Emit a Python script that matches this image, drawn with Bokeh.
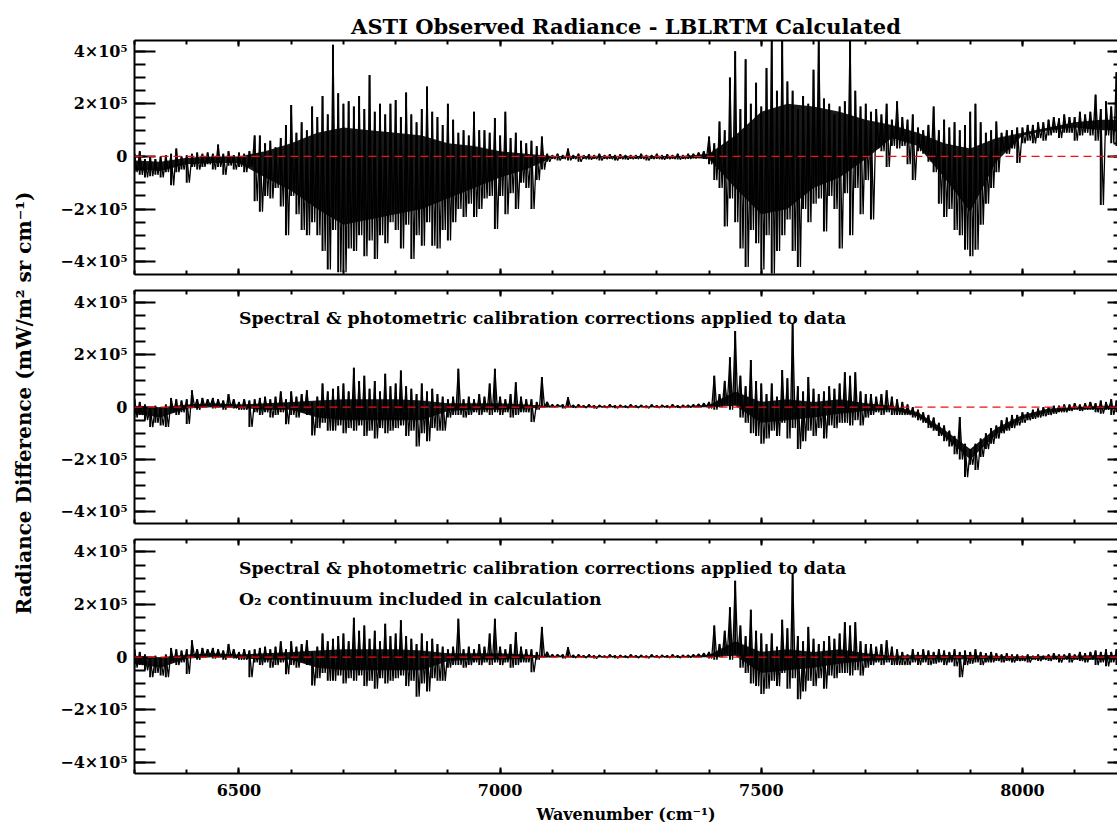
from bokeh.plotting import figure
from bokeh.models import (Range1d, LinearAxis, FixedTicker, Span, Label, Div,
                          ColumnDataSource, CustomJSTickFormatter)
from bokeh.layouts import row, column
from bokeh.embed import file_html
from bokeh.resources import INLINE

# ---------------- data (radiance difference in units of 1e5 mW/m2 sr cm-1) ----------------
UNIT = 1e5
wavenumber = list(range(6300, 8201, 10))          # cm-1, one bin per 10 cm-1
core_wavenumber = list(range(6300, 8201, 50))     # cm-1, sampling of the solid dense core

# Panel 1: ASTI observed - LBLRTM (no corrections); per-bin high / low extremes
p1_hi = [0.1, 0.2, -0.1, 0.0, -0.1, 0.0, 0.05, 0.1, 0.3, 0.0,          # 6300
         0.05, 0.1, 0.15, 0.1, 0.15, 0.1, 0.45, 0.1, 0.2, 0.05,        # 6400
         0.15, 0.1, 0.2, 0.8, 0.8, 0.5, 0.6, 0.35, 0.7, 1.2,           # 6500
         1.96, 0.9, 1.3, 1.0, 1.9, 1.5, 2.3, 1.6, 4.25, 2.4,           # 6600
         2.0, 2.1, 1.9, 2.3, 1.8, 3.1, 1.7, 2.0, 1.6, 2.0,             # 6700
         2.15, 1.5, 2.43, 1.6, 1.3, 1.8, 2.66, 1.7, 1.5, 1.2,          # 6800
         2.0, 1.4, 0.9, 1.0, 0.8, 1.7, 1.0, 1.0, 0.9, 1.46,            # 6900
         0.8, 1.7, 0.7, 0.9, 0.6, 0.5, 0.6, 0.4, 0.76, 0.1,            # 7000
         0.05, 0.1, 0.05, 0.3, 0.05, 0.1, 0.05, 0.08, 0.05, 0.1,       # 7100
         0.05, 0.08, 0.05, 0.08, 0.05, 0.05, 0.05, 0.1, 0.05, 0.05,    # 7200
         0.1, 0.05, 0.08, 0.05, 0.1, 0.05, 0.1, 0.1, 0.15, 0.2,        # 7300
         0.76, 0.5, 1.33, 1.0, 3.0, 4.0, 1.8, 3.7, 2.0, 2.8,           # 7400
         1.9, 3.36, 4.45, 2.5, 4.45, 2.85, 2.5, 1.8, 2.3, 2.0,         # 7500
         3.3, 4.45, 2.2, 2.0, 1.6, 1.9, 2.1, 4.45, 2.5, 1.9,           # 7600
         2.0, 1.7, 1.8, 1.6, 2.0, 1.4, 2.1, 1.5, 1.4, 1.6,             # 7700
         1.1, 1.0, 1.2, 1.9, 1.0, 1.4, 1.1, 1.3, 1.0, 1.2,             # 7800
         1.7, 2.0, 1.3, 0.9, 1.0, 1.33, 0.9, 1.0, 1.0, 1.1,            # 7900
         1.1, 1.2, 1.2, 1.3, 1.3, 1.4, 1.5, 1.45, 1.6, 1.5,            # 8000
         1.5, 1.7, 1.6, 1.7, 2.35, 1.8, 2.1, 1.9, 3.2, 2.0,            # 8100
         1.8]                                                          # 8200
p1_lo = [-0.6, -0.7, -0.8, -0.75, -0.7, -0.8, -0.6, -1.1, -0.6, -0.5,
         -1.0, -0.4, -0.5, -0.4, -0.3, -0.5, -0.4, -0.7, -0.35, -0.5,
         -0.4, -0.6, -0.4, -1.7, -2.1, -1.5, -1.6, -1.2, -1.9, -3.0,
         -1.5, -2.2, -2.8, -3.0, -2.5, -3.0, -3.6, -4.3, -2.8, -4.4,
         -4.4, -3.5, -3.6, -3.0, -3.8, -3.2, -3.9, -3.0, -3.3, -2.5,
         -2.8, -3.5, -2.6, -3.9, -3.0, -3.4, -2.5, -3.4, -3.5, -2.8,
         -3.2, -2.5, -2.0, -2.3, -1.8, -2.3, -2.0, -1.6, -1.5, -2.76,
         -1.5, -2.2, -1.4, -2.0, -1.0, -1.2, -2.0, -0.9, -0.5, -0.2,
         -0.1, -0.15, -0.1, -0.15, -0.1, -0.2, -0.1, -0.12, -0.1, -0.15,
         -0.1, -0.1, -0.15, -0.1, -0.12, -0.1, -0.1, -0.1, -0.15, -0.1,
         -0.1, -0.12, -0.1, -0.1, -0.12, -0.1, -0.1, -0.08, -0.05, -0.1,
         -0.3, -0.9, -1.2, -2.66, -1.6, -2.5, -3.5, -4.2, -2.8, -3.3,
         -4.3, -3.0, -4.45, -3.6, -3.0, -2.4, -3.6, -4.2, -2.0, -2.5,
         -1.8, -1.6, -2.85, -1.5, -2.0, -3.5, -1.4, -3.0, -1.2, -2.2,
         -0.9, -2.4, 0.3, 0.2, -0.4, 0.4, 0.3, 0.4, -0.3, -0.9,
         0.2, 0.1, -0.2, -0.6, -1.8, -2.3, -2.0, -2.8, -3.0, -3.55,
         -3.8, -3.55, -2.6, -1.8, -1.2, -0.6, 0.2, 0.1, 0.3, -0.25,
         0.5, 0.6, 0.5, 0.7, 0.6, 0.8, 0.9, 0.7, 0.9, 0.9,
         0.6, 0.8, 0.9, 0.8, 0.6, -1.85, 0.8, 0.5, 0.4, -1.8,
         0.8]
# Panel 1 solid dense core, every 50 cm-1
p1_core_hi = [-0.15, -0.2, -0.05, 0.0, 0.0, 0.2, 0.5, 0.9, 1.1, 1.0,       # 6300-6750
              0.9, 0.8, 0.5, 0.4, 0.2, 0.1, 0.02, 0.02, 0.02, 0.02,        # 6800-7250
              0.02, 0.02, 0.1, 0.8, 1.7, 2.0, 1.9, 1.7, 1.4, 1.2,          # 7300-7750
              0.9, 0.5, 0.3, 0.7, 0.9, 1.1, 1.3, 1.4, 1.4]                 # 7800-8200
p1_core_lo = [-0.5, -0.55, -0.3, -0.25, -0.25, -0.8, -1.3, -2.0, -2.6, -2.4,
              -2.2, -2.0, -1.6, -1.2, -0.8, -0.5, -0.04, -0.04, -0.04, -0.04,
              -0.04, -0.04, -0.1, -1.2, -2.2, -2.0, -1.2, -0.8, -0.1, 0.7,
              0.4, -0.8, -2.1, -0.2, 0.8, 1.0, 1.1, 1.0, 1.0]

# Panel 2: spectral & photometric calibration corrections applied
p2_hi = [0.3, 0.2, 0.1, 0.0, 0.05, 0.0, 0.1, 0.35, 0.3, 0.25,          # 6300
         0.3, 0.64, 0.3, 0.35, 0.3, 0.35, 0.3, 0.25, 0.5, 0.3,         # 6400
         0.2, 0.3, 0.25, 0.3, 0.35, 0.4, 0.3, 0.4, 0.6, 0.3,           # 6500
         0.6, 0.4, 0.5, 0.64, 0.2, 0.4, 0.9, 0.6, 0.7, 0.8,            # 6600
         0.9, 0.6, 1.5, 1.0, 1.2, 0.7, 1.0, 0.6, 1.27, 0.8,            # 6700
         0.9, 1.4, 0.8, 0.7, 0.5, 0.9, 0.6, 0.7, 0.5, 0.4,             # 6800
         0.3, 0.4, 1.46, 0.3, 0.4, 0.3, 0.5, 0.4, 0.9, 1.46,           # 6900
         0.4, 0.3, 0.5, 0.95, 0.4, 0.3, 0.3, 0.2, 1.15, 0.2,           # 7000
         0.1, 0.1, 0.1, 0.38, 0.08, 0.1, 0.06, 0.1, 0.06, 0.08,        # 7100
         0.05, 0.1, 0.06, 0.08, 0.05, 0.1, 0.06, 0.08, 0.05, 0.1,      # 7200
         0.06, 0.08, 0.06, 0.1, 0.06, 0.08, 0.08, 0.1, 0.12, 0.15,     # 7300
         0.2, 1.2, 0.5, 1.0, 1.9, 2.9, 1.2, 0.8, 1.8, 1.0,             # 7400
         0.9, 0.5, 0.9, 0.4, 1.42, 1.1, 3.18, 0.8, 0.6, 1.15,          # 7500
         0.7, 0.5, 0.6, 0.8, 0.7, 0.9, 1.33, 1.2, 1.33, 0.6,           # 7600
         0.5, 0.5, 0.4, 0.5, 0.64, 0.4, 0.3, 0.2, 0.1, 0.0,            # 7700
         -0.1, -0.2, -0.3, -0.4, -0.6, -0.7, -0.9, -1.1, -0.38, -1.4,  # 7800
         -1.6, -1.4, -1.2, -1.0, -0.8, -0.7, -0.5, -0.4, -0.3, -0.3,   # 7900
         -0.2, -0.2, -0.1, -0.05, 0.0, 0.0, 0.05, 0.05, 0.1, 0.1,      # 8000
         0.15, 0.1, 0.15, 0.2, 0.15, 0.25, 0.2, 0.3, 0.25, 0.2,        # 8100
         0.2]                                                          # 8200
p2_lo = [-0.4, -0.3, -0.5, -0.76, -0.6, -0.7, -0.76, -0.2, -0.3, -0.2,
         -0.64, 0.0, -0.1, 0.0, 0.05, -0.05, 0.0, -0.1, 0.0, -0.05,
         -0.1, -0.1, -0.76, -0.2, -0.3, -0.2, -0.4, -0.3, -0.2, -0.65,
         -0.3, -0.4, -0.2, -0.3, -1.08, -0.8, -0.6, -0.9, -0.9, -0.7,
         -1.0, -0.8, -0.9, -0.7, -1.1, -0.9, -1.2, -0.8, -1.0, -0.9,
         -0.8, -0.7, -1.1, -0.9, -1.5, -1.0, -1.3, -0.8, -0.9, -0.9,
         -0.4, -0.3, -0.3, -0.4, -0.3, -0.2, -0.3, -0.2, -0.3, -0.2,
         -0.3, -0.2, -0.4, -0.3, -0.2, -0.2, -0.57, -0.1, 0.0, 0.0,
         0.0, 0.02, -0.05, 0.0, -0.03, 0.0, -0.03, 0.0, -0.05, 0.0,
         -0.03, 0.0, -0.04, 0.0, -0.03, 0.0, -0.03, 0.0, -0.04, 0.0,
         -0.03, 0.0, -0.03, 0.0, -0.03, 0.0, -0.02, 0.0, 0.0, 0.02,
         -0.05, -0.1, 0.0, 0.1, -0.1, 0.1, -0.4, -0.6, -1.0, -1.1,
         -1.4, -1.2, -0.9, -1.1, -0.6, -1.2, -0.8, -1.6, -1.3, -0.9,
         -1.1, -0.8, -1.2, -0.7, -0.8, -0.6, -0.6, -0.7, -0.5, -0.7,
         -0.4, -0.3, -0.2, -0.3, -0.2, -0.3, -0.3, -0.3, -0.3, -0.4,
         -0.5, -0.6, -0.8, -0.9, -1.1, -1.3, -1.5, -1.8, -2.0, -2.67,
         -2.2, -2.4, -1.9, -1.6, -1.4, -1.2, -1.0, -0.9, -0.8, -0.7,
         -0.6, -0.5, -0.45, -0.4, -0.35, -0.3, -0.25, -0.2, -0.2, -0.15,
         -0.1, -0.15, -0.1, -0.1, -0.2, -0.25, -0.1, -0.3, -0.2, -0.2,
         -0.1]
p2_core_hi = [0.05, 0.0, 0.1, 0.15, 0.1, 0.15, 0.2, 0.25, 0.3, 0.3,
              0.3, 0.25, 0.15, 0.15, 0.15, 0.1, 0.03, 0.03, 0.03, 0.03,
              0.03, 0.03, 0.08, 0.6, 0.2, 0.3, 0.2, 0.3, 0.15, 0.05,
              -0.2, -0.85, -1.6, -0.8, -0.3, -0.05, 0.0, 0.05, 0.05]
p2_core_lo = [-0.25, -0.4, -0.05, 0.0, -0.03, -0.1, -0.1, -0.4, -0.5, -0.5,
              -0.5, -0.5, -0.15, -0.1, -0.1, -0.05, 0.0, 0.0, 0.0, 0.0,
              0.0, 0.0, 0.0, 0.05, -0.6, -0.5, -0.4, -0.25, -0.15, -0.1,
              -0.35, -1.1, -2.0, -1.05, -0.45, -0.2, -0.08, -0.08, -0.08]

# Panel 3: as panel 2 below 7790 cm-1 (identical in the picture); O2 continuum changes the rest
N_SHARED = 149                                        # bins 6300 ... 7780 cm-1
p3_tail_hi = [0.3, 0.2, 0.3, 0.25, 0.2, 0.3, 0.25, 0.2, 0.3, 0.2, 0.25,  # 7790-7890
              0.2, 0.3, 0.2, 0.15, 0.2, 0.15, 0.1, 0.15, 0.1, 0.1,       # 7900
              0.05, 0.1, 0.05, 0.1, 0.05, 0.1, 0.15, 0.1, 0.1, 0.15,     # 8000
              0.1, 0.2, 0.15, 0.2, 0.25, 0.2, 0.3, 0.2, 0.3, 0.2, 0.25]  # 8100-8200
p3_tail_lo = [-0.2, -0.3, -0.2, -0.3, -0.25, -0.2, -0.3, -0.2, -0.35, -0.76, -0.3,
              -0.25, -0.2, -0.3, -0.2, -0.2, -0.15, -0.2, -0.15, -0.2, -0.15,
              -0.15, -0.2, -0.1, -0.15, -0.1, -0.15, -0.1, -0.2, -0.1, -0.2,
              -0.1, -0.15, -0.2, -0.1, -0.3, -0.2, -0.35, -0.2, -0.3, -0.15, -0.2]
p3_hi = p2_hi[:N_SHARED] + p3_tail_hi
p3_lo = p2_lo[:N_SHARED] + p3_tail_lo
N_CORE_SHARED = 30                                    # core points 6300 ... 7750 cm-1
p3_core_tail_hi = [0.08, 0.08, 0.08, 0.05, 0.03, 0.05, 0.05, 0.08, 0.08]   # 7800-8200
p3_core_tail_lo = [-0.08, -0.1, -0.08, -0.08, -0.08, -0.06, -0.08, -0.1, -0.08]
p3_core_hi = p2_core_hi[:N_CORE_SHARED] + p3_core_tail_hi
p3_core_lo = p2_core_lo[:N_CORE_SHARED] + p3_core_tail_lo

y_tick_values = [-4e5, -2e5, 0, 2e5, 4e5]
y_tick_labels = ["\u22124\u00d710\u2075", "\u22122\u00d710\u2075", "0", "2\u00d710\u2075", "4\u00d710\u2075"]
x_tick_values = [6500, 7000, 7500, 8000]

title_text = "ASTI Observed Radiance - LBLRTM Calculated"
note_1 = "Spectral & photometric calibration corrections applied to data"
note_2 = "O\u2082 continuum included in calculation"
x_label = "Wavenumber (cm\u207b\u00b9)"
y_label = "Radiance Difference (mW/m\u00b2 sr cm\u207b\u00b9)"

# ---------------- styling ----------------
FONT = "DejaVu Serif"
HALF_BIN = 5
X_MINOR = list(range(6300, 8201, 100))
Y_MINOR = [v * 0.5e5 for v in range(-9, 10)]
BLANK = CustomJSTickFormatter(code="return ''")


def zigzag_source(hi, lo):
    xs, ys = [], []
    for w, h, l in zip(wavenumber, hi, lo):
        xs.extend([w, w + HALF_BIN])
        ys.extend([h * UNIT, l * UNIT])
    return ColumnDataSource(dict(x=xs, y=ys))


def bin_source(hi, lo):
    return ColumnDataSource(dict(x=wavenumber,
                                 y0=[v * UNIT for v in lo],
                                 y1=[v * UNIT for v in hi]))


def core_source(hi, lo):
    return ColumnDataSource(dict(x=core_wavenumber,
                                 y1=[v * UNIT for v in lo],
                                 y2=[v * UNIT for v in hi]))


def hide_labels(ax):
    ax.formatter = BLANK
    ax.major_label_text_font_size = "0px"
    ax.major_label_standoff = 0


def style_x(ax):
    ax.axis_line_width = 2
    ax.major_tick_in, ax.major_tick_out = 6, 0
    ax.minor_tick_in, ax.minor_tick_out = 4, 0
    ax.major_tick_line_width = 2
    ax.minor_tick_line_width = 2


def panel(hi, lo, core_hi, core_lo, y_start, y_end, frame_h, top, bottom, show_x=False):
    p = figure(frame_width=983, frame_height=frame_h,
               x_range=Range1d(6300, 8182), y_range=Range1d(y_start, y_end),
               x_axis_type=None, y_axis_type=None,
               toolbar_location=None, output_backend="svg",
               min_border_left=94, min_border_right=0,
               min_border_top=top, min_border_bottom=bottom,
               outline_line_color=None,
               background_fill_color="white", border_fill_color="white")

    left = LinearAxis(ticker=FixedTicker(ticks=y_tick_values, minor_ticks=Y_MINOR))
    left.major_label_overrides = {int(v): t for v, t in zip(y_tick_values, y_tick_labels)}
    left.major_tick_in, left.major_tick_out = 21, 0
    left.minor_tick_in, left.minor_tick_out = 11, 0
    left.major_label_standoff = 7
    left.major_label_text_font = FONT
    left.major_label_text_font_style = "bold"
    left.major_label_text_font_size = "16px"
    left.major_label_text_color = "black"
    left.axis_line_width = 2
    left.major_tick_line_width = 2
    left.minor_tick_line_width = 2
    p.add_layout(left, "left")

    right = LinearAxis(ticker=FixedTicker(ticks=y_tick_values, minor_ticks=Y_MINOR))
    hide_labels(right)
    right.axis_line_color = None
    right.major_tick_in, right.major_tick_out = 10, 0
    right.minor_tick_in, right.minor_tick_out = 4, 0
    right.major_tick_line_width = 2
    right.minor_tick_line_width = 2
    p.add_layout(right, "right")

    above = LinearAxis(ticker=FixedTicker(ticks=x_tick_values, minor_ticks=X_MINOR))
    hide_labels(above)
    style_x(above)
    p.add_layout(above, "above")

    below = LinearAxis(ticker=FixedTicker(ticks=x_tick_values, minor_ticks=X_MINOR))
    style_x(below)
    if show_x:
        below.major_label_standoff = 10
        below.major_label_text_font = FONT
        below.major_label_text_font_style = "bold"
        below.major_label_text_font_size = "16px"
        below.major_label_text_color = "black"
        below.axis_label = x_label
        below.axis_label_standoff = 6
        below.axis_label_text_font = FONT
        below.axis_label_text_font_style = "bold"
        below.axis_label_text_font_size = "16px"
        below.axis_label_text_color = "black"
    else:
        hide_labels(below)
    p.add_layout(below, "below")

    p.varea(x="x", y1="y1", y2="y2", source=core_source(core_hi, core_lo),
            fill_color="black", fill_alpha=0.9)
    p.segment(x0="x", y0="y0", x1="x", y1="y1", source=bin_source(hi, lo),
              line_color="black", line_width=2.0)
    p.line(x="x", y="y", source=zigzag_source(hi, lo), line_color="black", line_width=1.3)
    p.add_layout(Span(location=0, dimension="width", line_color="#ee1111",
                      line_dash="8 5", line_width=1.3))
    return p


f1 = panel(p1_hi, p1_lo, p1_core_hi, p1_core_lo, -4.49e5, 4.41e5, 234, 40, 8)
f1.title.text = title_text
f1.title.align = "center"
f1.title.text_font = FONT
f1.title.text_font_style = "bold"
f1.title.text_font_size = "21px"
f1.title.text_color = "black"
f1.title.standoff = 3

f2 = panel(p2_hi, p2_lo, p2_core_hi, p2_core_lo, -4.44e5, 4.45e5, 233, 8, 8)
f2.add_layout(Label(x=6500, y=3.39e5, text=note_1, text_font=FONT, text_font_style="bold",
                    text_font_size="17.3px", text_baseline="middle", text_color="black"))

f3 = panel(p3_hi, p3_lo, p3_core_hi, p3_core_lo, -4.42e5, 4.47e5, 234, 8, 49, show_x=True)
f3.add_layout(Label(x=6500, y=3.4e5, text=note_1, text_font=FONT, text_font_style="bold",
                    text_font_size="17.3px", text_baseline="middle", text_color="black"))
f3.add_layout(Label(x=6500, y=2.2e5, text=note_2, text_font=FONT, text_font_style="bold",
                    text_font_size="17.3px", text_baseline="middle", text_color="black"))

ylabel_html = (
    '<div style="position:relative;width:40px;height:822px;">'
    '<div style="position:absolute;left:24px;top:403px;'
    'transform:translate(-50%,-50%) rotate(-90deg);white-space:nowrap;'
    "font-family:'DejaVu Serif';font-weight:bold;font-size:20px;color:black;\">"
    + y_label + '</div></div>'
)
ydiv = Div(text=ylabel_html, width=40, height=822, margin=0)

layout = row(ydiv, column(f1, f2, f3, spacing=0), spacing=0)

with open("out.html", "w") as fh:
    fh.write(file_html(layout, INLINE))
